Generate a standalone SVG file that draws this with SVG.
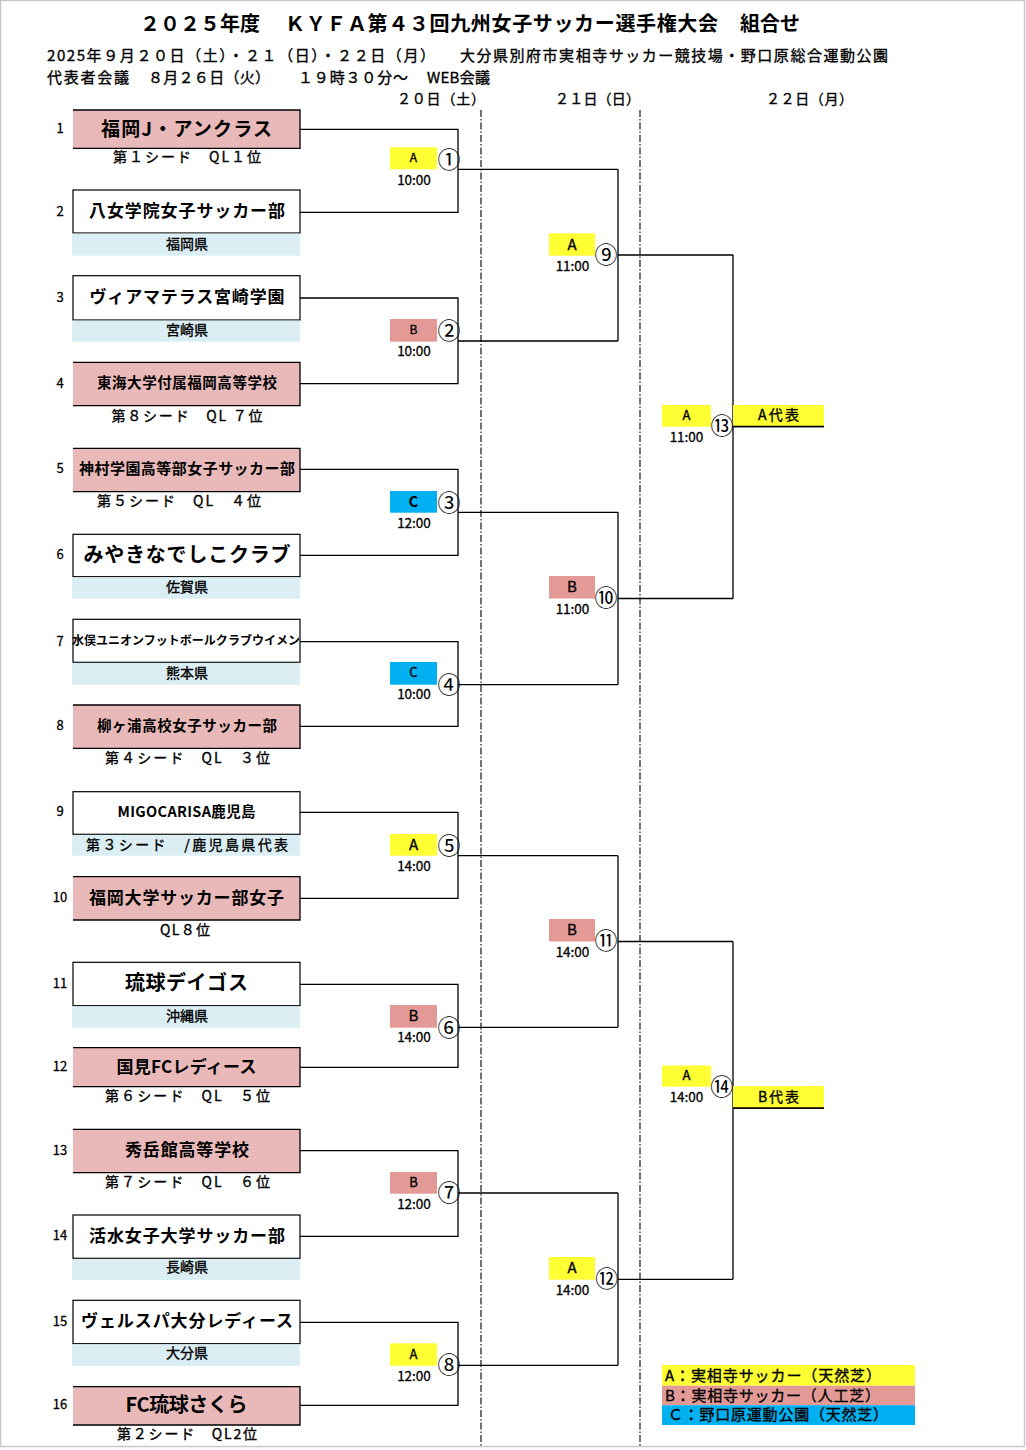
<svg xmlns="http://www.w3.org/2000/svg" width="1026" height="1450" viewBox="0 0 1026 1450">
<style>
text { font-family: "Noto Sans CJK JP", "Noto Sans", sans-serif; fill: #000; transform: translateY(-1.5px); }
.c { text-anchor: middle; dominant-baseline: central; }
.l { dominant-baseline: central; }
.b { font-weight: bold; }
.th { stroke: #000; stroke-width: 0.35; }
.tn { font-weight: bold; text-anchor: middle; dominant-baseline: central; }
.sub { font-size: 14px; text-anchor: middle; dominant-baseline: central; stroke: #000; stroke-width: 0.35; }
.seed { font-size: 13px; text-anchor: middle; dominant-baseline: central; stroke: #000; stroke-width: 0.3; }
.ln { stroke: #000; stroke-width: 1.3; fill: none; }
.pink { fill: #E8B9B8; }
.white { fill: #fff; stroke: #000; stroke-width: 1.2; }
.band { fill: #DAEEF3; }
.ya { fill: #FFFF33; }
.pb { fill: #E39A96; }
.cc { fill: #00B0F0; }
.cn { font-size: 23px; text-anchor: middle; dominant-baseline: central; }
.tm { font-size: 13.5px; text-anchor: middle; dominant-baseline: central; stroke: #000; stroke-width: 0.3; }
.dash { stroke: #000; stroke-width: 1.1; stroke-dasharray: 7 2 1.5 2; fill: none; }
</style>
<rect x="0.5" y="0.5" width="1024" height="1446" fill="#fff" stroke="#c8c8c8" stroke-width="1.5"/>

<g id="header">
<text x="140" y="24" class="l b" font-size="20" textLength="120">２０２５年度</text>
<text x="285" y="24" class="l b" font-size="20" textLength="433">ＫＹＦＡ第４３回九州女子サッカー選手権大会</text>
<text x="740" y="24" class="l b" font-size="20" textLength="60">組合せ</text>
<text x="47" y="56" class="l th" font-size="15" textLength="388">2025年９月２０日（土）・２１（日）・２２日（月）</text>
<text x="460" y="56" class="l th" font-size="15" textLength="428">大分県別府市実相寺サッカー競技場・野口原総合運動公園</text>
<text x="47" y="78" class="l th" font-size="15" textLength="82">代表者会議</text>
<text x="148" y="78" class="l th" font-size="15" textLength="122">８月２６日（火）</text>
<text x="298" y="78" class="l th" font-size="15" textLength="110">１９時３０分～</text>
<text x="427" y="78" class="l th" font-size="15" textLength="63">WEB会議</text>
<text x="397" y="99" class="l th" font-size="14" textLength="88">２０日（土）</text>
<text x="555" y="99" class="l th" font-size="14" textLength="85">２１日（日）</text>
<text x="766" y="99" class="l th" font-size="14" textLength="87">２２日（月）</text>
</g>

<g id="day-separators">
<line x1="481" y1="110" x2="481" y2="1446" class="dash"/>
<line x1="640" y1="110" x2="640" y2="1446" class="dash"/>
</g>

<g id="connectors" class="ln">
<path d="M300,129.3 H458 V212.3 H300 M458,169.3 H618"/>
<path d="M300,298 H458 V383.7 H300 M458,341 H618"/>
<path d="M300,469.3 H458 V555.3 H300 M458,512.3 H618"/>
<path d="M300,641.7 H458 V726.3 H300 M458,684.7 H618"/>
<path d="M300,812.3 H458 V898.3 H300 M458,855.7 H618"/>
<path d="M300,984.3 H458 V1067.3 H300 M458,1027.3 H618"/>
<path d="M300,1150.7 H458 V1236.3 H300 M458,1193 H618"/>
<path d="M300,1322.3 H458 V1405.3 H300 M458,1365.3 H618"/>
<path d="M618,169.3 V341 M618,255 H733"/>
<path d="M618,512.3 V684.7 M618,598.5 H733"/>
<path d="M618,855.7 V1027.3 M618,941.5 H733"/>
<path d="M618,1193 V1365.3 M618,1279.3 H733"/>
<path d="M733,255 V598.5 M733,426.5 H824"/>
<path d="M733,941.5 V1279.3 M733,1108 H824"/>
</g>

<g id="team-1"><rect x="73" y="110" width="227" height="38.3" class="pink"/><path d="M73,110 H300 V148.3 H73" class="ln"/><text x="60" y="129.3" class="seed">1</text><text x="186.5" y="128.5" class="tn" font-size="19" textLength="171">福岡J・アンクラス</text><text x="187" y="157" class="sub" textLength="148">第１シード　QL１位</text></g>
<g id="team-2"><rect x="73" y="190" width="227" height="43" class="white"/><rect x="72" y="233.6" width="228" height="22" class="band"/><text x="60" y="212.3" class="seed">2</text><text x="187" y="211" class="tn" font-size="17" textLength="196">八女学院女子サッカー部</text><text x="187" y="244" class="sub">福岡県</text></g>
<g id="team-3"><rect x="73" y="275.7" width="227" height="44.3" class="white"/><rect x="72" y="320.6" width="228" height="21" class="band"/><text x="60" y="298" class="seed">3</text><text x="187" y="297" class="tn" font-size="17" textLength="195">ヴィアマテラス宮崎学園</text><text x="187" y="330" class="sub">宮崎県</text></g>
<g id="team-4"><rect x="73" y="362.3" width="227" height="43.4" class="pink"/><path d="M73,362.3 H300 V405.7 H73" class="ln"/><text x="60" y="383.7" class="seed">4</text><text x="187" y="383" class="tn" font-size="14.5" textLength="180">東海大学付属福岡高等学校</text><text x="187" y="416" class="sub" textLength="151">第８シード　QL ７位</text></g>
<g id="team-5"><rect x="73" y="448.3" width="227" height="43.4" class="pink"/><path d="M73,448.3 H300 V491.7 H73" class="ln"/><text x="60" y="469.3" class="seed">5</text><text x="187" y="469" class="tn" font-size="15" textLength="216">神村学園高等部女子サッカー部</text><text x="179" y="501.7" class="sub" textLength="164">第５シード　QL　４位</text></g>
<g id="team-6"><rect x="73" y="534.3" width="227" height="42.4" class="white"/><rect x="72" y="577.3" width="228" height="21.4" class="band"/><text x="60" y="555.3" class="seed">6</text><text x="187" y="554.5" class="tn" font-size="20" textLength="207">みやきなでしこクラブ</text><text x="187" y="587" class="sub">佐賀県</text></g>
<g id="team-7"><rect x="73" y="619.3" width="227" height="43" class="white"/><rect x="72" y="662.9" width="228" height="21.8" class="band"/><text x="60" y="641.7" class="seed">7</text><text x="186" y="640.7" class="tn" font-size="12" textLength="228">水俣ユニオンフットボールクラブウイメン</text><text x="187" y="673" class="sub">熊本県</text></g>
<g id="team-8"><rect x="73" y="705" width="227" height="43.3" class="pink"/><path d="M73,705 H300 V748.3 H73" class="ln"/><text x="60" y="726.3" class="seed">8</text><text x="187" y="726" class="tn" font-size="14.5" textLength="180">柳ヶ浦高校女子サッカー部</text><text x="187.5" y="758.7" class="sub" textLength="165">第４シード　QL　３位</text></g>
<g id="team-9"><rect x="73" y="791.7" width="227" height="42.6" class="white"/><rect x="72" y="834.9" width="228" height="20.8" class="band"/><text x="60" y="812.3" class="seed">9</text><text x="186.5" y="812" class="tn" font-size="14.5" textLength="138">MIGOCARISA鹿児島</text><text x="187" y="845" class="sub" textLength="202">第３シード　/鹿児島県代表</text></g>
<g id="team-10"><rect x="73" y="876.7" width="227" height="43.3" class="pink"/><path d="M73,876.7 H300 V920 H73" class="ln"/><text x="60" y="898.3" class="seed">10</text><text x="186.5" y="897.5" class="tn" font-size="17" textLength="195">福岡大学サッカー部女子</text><text x="185" y="930" class="sub" textLength="50">QL８位</text></g>
<g id="team-11"><rect x="73" y="962.3" width="227" height="43.4" class="white"/><rect x="72" y="1006.3" width="228" height="21.4" class="band"/><text x="60" y="984.3" class="seed">11</text><text x="186.5" y="983" class="tn" font-size="20" textLength="123">琉球デイゴス</text><text x="187" y="1016" class="sub">沖縄県</text></g>
<g id="team-12"><rect x="73" y="1047.7" width="227" height="39" class="pink"/><path d="M73,1047.7 H300 V1086.7 H73" class="ln"/><text x="60" y="1067.3" class="seed">12</text><text x="186.5" y="1067" class="tn" font-size="17" textLength="140">国見FCレディース</text><text x="187.5" y="1096.7" class="sub" textLength="165">第６シード　QL　５位</text></g>
<g id="team-13"><rect x="73" y="1129.3" width="227" height="43.4" class="pink"/><path d="M73,1129.3 H300 V1172.7 H73" class="ln"/><text x="60" y="1150.7" class="seed">13</text><text x="187" y="1150" class="tn" font-size="17" textLength="124">秀岳館高等学校</text><text x="187.5" y="1182" class="sub" textLength="165">第７シード　QL　６位</text></g>
<g id="team-14"><rect x="73" y="1215" width="227" height="43.3" class="white"/><rect x="72" y="1258.9" width="228" height="21.1" class="band"/><text x="60" y="1236.3" class="seed">14</text><text x="187" y="1236" class="tn" font-size="17" textLength="196">活水女子大学サッカー部</text><text x="187" y="1267" class="sub">長崎県</text></g>
<g id="team-15"><rect x="73" y="1300.3" width="227" height="43.4" class="white"/><rect x="72" y="1344.3" width="228" height="21.7" class="band"/><text x="60" y="1322.3" class="seed">15</text><text x="187" y="1321" class="tn" font-size="17" textLength="212">ヴェルスパ大分レディース</text><text x="187" y="1353" class="sub">大分県</text></g>
<g id="team-16"><rect x="73" y="1386.7" width="227" height="38.3" class="pink"/><path d="M73,1386.7 H300 V1425 H73" class="ln"/><text x="60" y="1405.3" class="seed">16</text><text x="186.5" y="1405" class="tn" font-size="20" textLength="122">FC琉球さくら</text><text x="187" y="1434" class="sub" textLength="140">第２シード　QL2位</text></g>

<g id="match-1"><rect x="390" y="147.3" width="47" height="22" class="ya"/><text x="413.5" y="158.3" class="c th" font-size="12">A</text><text x="449" y="159" class="cn">①</text><text x="414" y="180" class="tm">10:00</text></g>
<g id="match-2"><rect x="390" y="319" width="47" height="22.7" class="pb"/><text x="413.5" y="330.3" class="c th" font-size="12">B</text><text x="449" y="330" class="cn">②</text><text x="414" y="351.5" class="tm">10:00</text></g>
<g id="match-3"><rect x="390" y="491" width="47" height="21.7" class="cc"/><text x="413.5" y="501.8" class="c b" font-size="15">C</text><text x="449" y="502" class="cn">③</text><text x="414" y="523" class="tm">12:00</text></g>
<g id="match-4"><rect x="390" y="662" width="47" height="22.7" class="cc"/><text x="413.5" y="673.3" class="c th" font-size="13">C</text><text x="449" y="684" class="cn">④</text><text x="414" y="694" class="tm">10:00</text></g>
<g id="match-5"><rect x="390" y="834" width="47" height="21.7" class="ya"/><text x="413.5" y="844.8" class="c th" font-size="15">A</text><text x="449" y="845" class="cn">⑤</text><text x="414" y="866" class="tm">14:00</text></g>
<g id="match-6"><rect x="390" y="1005" width="47" height="22.7" class="pb"/><text x="413.5" y="1016.3" class="c th" font-size="15">B</text><text x="449" y="1027.5" class="cn">⑥</text><text x="414" y="1037.5" class="tm">14:00</text></g>
<g id="match-7"><rect x="390" y="1172" width="47" height="21.7" class="pb"/><text x="413.5" y="1182.8" class="c th" font-size="13">B</text><text x="449" y="1192.7" class="cn">⑦</text><text x="414" y="1204" class="tm">12:00</text></g>
<g id="match-8"><rect x="390" y="1343.3" width="47" height="22.4" class="ya"/><text x="413.5" y="1354.5" class="c th" font-size="13">A</text><text x="449" y="1364.3" class="cn">⑧</text><text x="414" y="1376" class="tm">12:00</text></g>
<g id="match-9"><rect x="549" y="233.3" width="46" height="22.4" class="ya"/><text x="572" y="244.5" class="c th" font-size="15">A</text><text x="606" y="254.3" class="cn">⑨</text><text x="572.5" y="266" class="tm">11:00</text></g>
<g id="match-10"><rect x="549" y="576" width="46" height="22.5" class="pb"/><text x="572" y="587.2" class="c th" font-size="15">B</text><text x="606" y="597.5" class="cn">⑩</text><text x="572.5" y="609" class="tm">11:00</text></g>
<g id="match-11"><rect x="549" y="919" width="46" height="22.5" class="pb"/><text x="572" y="930.2" class="c th" font-size="15">B</text><text x="606" y="940.5" class="cn">⑪</text><text x="572.5" y="952" class="tm">14:00</text></g>
<g id="match-12"><rect x="549" y="1257" width="46" height="22.7" class="ya"/><text x="572" y="1268.3" class="c th" font-size="15">A</text><text x="606.7" y="1278.3" class="cn">⑫</text><text x="572.5" y="1290" class="tm">14:00</text></g>
<g id="match-13"><rect x="662" y="405" width="49" height="21.7" class="ya"/><text x="686.5" y="415.8" class="c th" font-size="13">A</text><text x="722" y="425" class="cn">⑬</text><text x="686.5" y="437" class="tm">11:00</text></g>
<g id="match-14"><rect x="662" y="1065.5" width="49" height="21.2" class="ya"/><text x="686.5" y="1076.3" class="c th" font-size="13">A</text><text x="721.7" y="1086.5" class="cn">⑭</text><text x="686.5" y="1097" class="tm">14:00</text></g>

<g id="winner-a"><rect x="733" y="405" width="91" height="21.5" class="ya"/><line x1="733" y1="426.5" x2="824" y2="426.5" class="ln"/><text x="778.5" y="415.5" class="c th" font-size="14" textLength="41">A代表</text></g>
<g id="winner-b"><rect x="733" y="1086" width="91" height="22" class="ya"/><line x1="733" y1="1108" x2="824" y2="1108" class="ln"/><text x="778.5" y="1097" class="c th" font-size="14" textLength="41">B代表</text></g>

<g id="legend">
<rect x="662" y="1365" width="253" height="20.7" class="ya"/>
<rect x="662" y="1385.7" width="253" height="19.5" class="pb"/>
<rect x="662" y="1405.2" width="253" height="19.8" class="cc"/>
<text x="665" y="1375.5" class="l th" font-size="15" textLength="216">A：実相寺サッカー（天然芝）</text>
<text x="665" y="1395.5" class="l th" font-size="15" textLength="215">B：実相寺サッカー（人工芝）</text>
<text x="668" y="1415" class="l th" font-size="15" textLength="220">Ｃ：野口原運動公園（天然芝）</text>
</g>
</svg>
